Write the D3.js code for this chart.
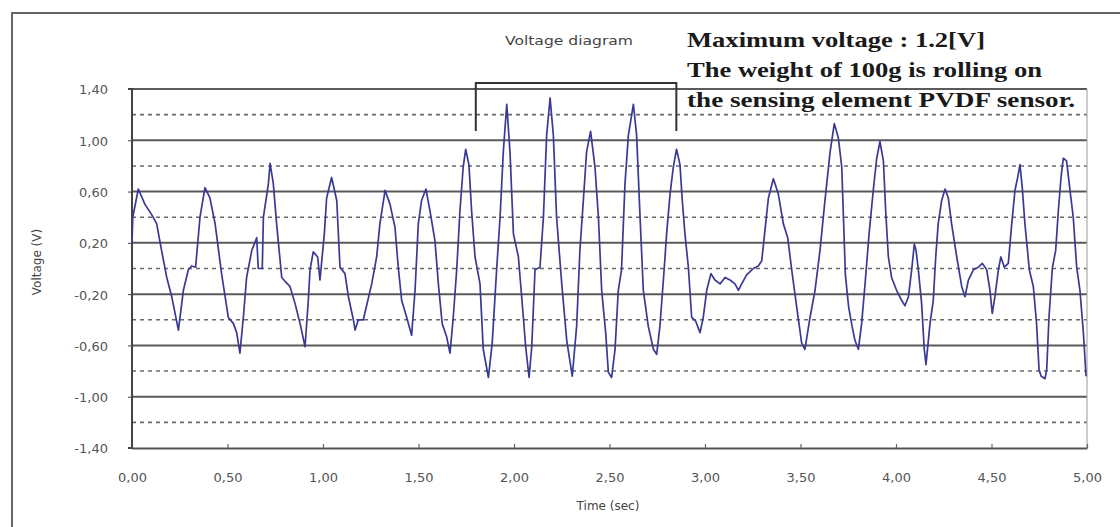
<!DOCTYPE html>
<html>
<head>
<meta charset="utf-8">
<script src="https://cdn.jsdelivr.net/npm/d3@7"></script>
<style>
  body { margin: 0; background: #fff; }
  svg { display: block; }
  .tick-label { font-family: "DejaVu Sans", sans-serif; font-size: 13px; fill: #555; }
  .axis-title { font-family: "DejaVu Sans", sans-serif; font-size: 12px; fill: #444; }
  .note { font-family: "Liberation Serif", "Times New Roman", serif; font-weight: bold; font-size: 21px; fill: #1a1a1a; }
</style>
</head>
<body>
<div id="chart-container"></div>
<script>
// PVDF sensor voltage trace
const timeSec = [
  0.000, 0.004, 0.033, 0.068, 0.103, 0.129, 0.155, 0.182, 0.208, 0.243, 0.269, 0.295, 0.312, 0.333, 0.356, 0.382,
  0.408, 0.435, 0.469, 0.504, 0.531, 0.548, 0.565, 0.583, 0.600, 0.627, 0.653, 0.661, 0.682, 0.688, 0.714, 0.723,
  0.740, 0.757, 0.784, 0.801, 0.827, 0.853, 0.880, 0.906, 0.923, 0.932, 0.949, 0.972, 0.984, 1.007, 1.019, 1.045,
  1.072, 1.089, 1.115, 1.133, 1.159, 1.168, 1.185, 1.211,
  1.255, 1.281, 1.298, 1.325, 1.351, 1.377, 1.394, 1.412, 1.438, 1.464, 1.482, 1.499, 1.516, 1.539, 1.560, 1.586,
  1.604, 1.624, 1.647, 1.665, 1.682, 1.700, 1.717, 1.734, 1.747, 1.764, 1.778, 1.796, 1.822, 1.839, 1.866, 1.886,
  1.909, 1.927, 1.944, 1.962, 1.979, 1.997, 2.023, 2.049, 2.061, 2.079, 2.093, 2.110, 2.136, 2.154, 2.171, 2.189,
  2.206, 2.223, 2.250, 2.276, 2.305, 2.328, 2.345, 2.363, 2.380, 2.401, 2.424, 2.442, 2.459, 2.480,
  2.494, 2.511, 2.529, 2.546, 2.563, 2.581, 2.599, 2.625, 2.642, 2.660, 2.677, 2.703, 2.730, 2.747, 2.764, 2.787,
  2.799, 2.817, 2.834, 2.851, 2.869, 2.881, 2.895, 2.913, 2.930, 2.951, 2.974, 2.991, 3.009, 3.031, 3.052, 3.079,
  3.105, 3.131, 3.157, 3.175, 3.192, 3.218, 3.253, 3.279, 3.297, 3.314, 3.332, 3.358, 3.384, 3.410, 3.433, 3.454,
  3.480, 3.506, 3.523, 3.550, 3.576, 3.602, 3.628, 3.655, 3.677, 3.698, 3.716, 3.735, 3.752,
  3.770, 3.785, 3.803, 3.820, 3.838, 3.859, 3.881, 3.899, 3.916, 3.934, 3.946, 3.960, 3.977, 4.003, 4.030, 4.047,
  4.065, 4.082, 4.096, 4.105, 4.117, 4.134, 4.148, 4.157, 4.178, 4.195, 4.208, 4.221, 4.239, 4.257, 4.274, 4.291,
  4.318, 4.344, 4.361, 4.379, 4.405, 4.431, 4.452, 4.475, 4.492, 4.504, 4.518, 4.536, 4.549, 4.567, 4.588, 4.606,
  4.623, 4.637, 4.649, 4.661, 4.675, 4.698, 4.719, 4.736, 4.749, 4.760, 4.771, 4.780, 4.789, 4.801, 4.819, 4.836,
  4.850, 4.864, 4.876, 4.893, 4.911, 4.928, 4.946, 4.963, 4.981, 4.995
];
const voltage = [
  0.19, 0.40, 0.62, 0.50, 0.42, 0.35, 0.14, -0.07, -0.22, -0.48, -0.17, -0.01, 0.02, 0.01, 0.40, 0.63,
  0.55, 0.35, -0.04, -0.38, -0.43, -0.50, -0.66, -0.38, -0.07, 0.14, 0.24, 0.00, 0.00, 0.40, 0.66, 0.82,
  0.66, 0.35, -0.07, -0.10, -0.14, -0.27, -0.43, -0.61, -0.25, -0.01, 0.13, 0.09, -0.09, 0.27, 0.55, 0.71,
  0.53, 0.01, -0.04, -0.22, -0.40, -0.48, -0.40, -0.40,
  -0.12, 0.09, 0.35, 0.61, 0.50, 0.32, 0.01, -0.25, -0.38, -0.52, -0.17, 0.35, 0.53, 0.62, 0.45, 0.22,
  -0.12, -0.43, -0.53, -0.66, -0.38, -0.01, 0.45, 0.79, 0.93, 0.81, 0.45, 0.09, -0.12, -0.63, -0.85, -0.58,
  -0.01, 0.40, 0.91, 1.28, 0.91, 0.27, 0.09, -0.38, -0.61, -0.85, -0.61, -0.01, 0.01, 0.40, 1.04, 1.33,
  1.04, 0.40, -0.12, -0.56, -0.84, -0.45, 0.14, 0.53, 0.91, 1.07, 0.79, 0.40, -0.17, -0.50,
  -0.81, -0.85, -0.63, -0.17, -0.01, 0.66, 1.04, 1.28, 1.04, 0.40, -0.17, -0.45, -0.63, -0.67, -0.45, 0.01,
  0.27, 0.58, 0.79, 0.93, 0.81, 0.53, 0.27, 0.01, -0.38, -0.41, -0.50, -0.38, -0.17, -0.04, -0.09, -0.12,
  -0.07, -0.09, -0.12, -0.17, -0.12, -0.05, 0.00, 0.02, 0.06, 0.30, 0.55, 0.70, 0.58, 0.35, 0.24, -0.01,
  -0.30, -0.58, -0.63, -0.38, -0.17, 0.14, 0.53, 0.91, 1.13, 1.02, 0.79, -0.05, -0.30,
  -0.45, -0.56, -0.63, -0.43, -0.12, 0.27, 0.61, 0.86, 0.99, 0.84, 0.45, 0.09, -0.07, -0.17, -0.25, -0.29,
  -0.22, -0.01, 0.19, 0.14, -0.01, -0.27, -0.63, -0.75, -0.43, -0.25, 0.09, 0.35, 0.53, 0.62, 0.55, 0.35,
  0.09, -0.14, -0.22, -0.09, -0.01, 0.01, 0.04, -0.01, -0.17, -0.35, -0.22, -0.01, 0.09, 0.01, 0.04, 0.35,
  0.61, 0.71, 0.81, 0.63, 0.35, -0.01, -0.14, -0.43, -0.79, -0.84, -0.85, -0.86, -0.79, -0.38, 0.01, 0.14,
  0.45, 0.71, 0.86, 0.84, 0.61, 0.40, 0.01, -0.17, -0.50, -0.84
];

const yTicks = [1.4, 1.0, 0.6, 0.2, -0.2, -0.6, -1.0, -1.4];
const yDashed = [1.2, 0.8, 0.4, 0.0, -0.4, -0.8, -1.2];
const xTicks = [0, 0.5, 1.0, 1.5, 2.0, 2.5, 3.0, 3.5, 4.0, 4.5, 5.0];

const chartTitle = "Voltage diagram";
const noteLines = [
  "Maximum voltage : 1.2[V]",
  "The weight of 100g is rolling on",
  "the sensing element PVDF sensor."
];

const W = 1120, H = 527;
const plot = { left: 132, right: 1087, top: 89, bottom: 448 };

const svg = d3.select("#chart-container")
  .append("svg")
  .attr("width", W)
  .attr("height", H);

const x = d3.scaleLinear().domain([0, 5]).range([plot.left, plot.right]);
const y = d3.scaleLinear().domain([-1.4, 1.4]).range([plot.bottom, plot.top]);

const fmt = d => (d < -1e-9 ? "-" : "") + Math.abs(d).toFixed(2).replace(".", ",");

// outer frame (top + left only are visible)
svg.append("path")
  .attr("d", `M12,${H} L12,13 L${W},13`)
  .attr("fill", "none")
  .attr("stroke", "#666")
  .attr("stroke-width", 2);

// dashed grid
svg.append("g").selectAll("line")
  .data(yDashed)
  .join("line")
  .attr("x1", plot.left).attr("x2", plot.right)
  .attr("y1", d => y(d)).attr("y2", d => y(d))
  .attr("stroke", "#6a6a6a")
  .attr("stroke-width", 1.6)
  .attr("stroke-dasharray", "4,4");

// solid grid
svg.append("g").selectAll("line")
  .data(yTicks.filter(d => d > -1.4))
  .join("line")
  .attr("x1", plot.left).attr("x2", plot.right)
  .attr("y1", d => y(d)).attr("y2", d => y(d))
  .attr("stroke", "#5a5a5a")
  .attr("stroke-width", 2);

// right border
svg.append("line")
  .attr("x1", plot.right).attr("x2", plot.right)
  .attr("y1", plot.top).attr("y2", plot.bottom)
  .attr("stroke", "#aaa")
  .attr("stroke-width", 1.2);

// axes
const xAxis = d3.axisBottom(x).tickValues(xTicks).tickSize(0).tickFormat(fmt);
const gx = svg.append("g")
  .attr("transform", `translate(0,${plot.bottom})`)
  .call(xAxis);
gx.select(".domain").attr("stroke", "#555").attr("stroke-width", 2);
gx.selectAll(".tick text")
  .attr("class", "tick-label")
  .attr("y", 34)
  .attr("dy", 0);
gx.selectAll(".tick").append("line")
  .attr("y1", 0).attr("y2", -4)
  .attr("stroke", "#666").attr("stroke-width", 1.2);

const yAxis = d3.axisLeft(y).tickValues(yTicks).tickSize(4).tickFormat(fmt);
const gy = svg.append("g")
  .attr("transform", `translate(${plot.left},0)`)
  .call(yAxis);
gy.select(".domain").attr("stroke", "#444").attr("stroke-width", 2).attr("d", `M-4,${plot.top}H0V${plot.bottom}H-4`);
gy.selectAll(".tick line").attr("stroke", "#444");
gy.selectAll(".tick text")
  .attr("class", "tick-label")
  .attr("x", -24)
  .attr("dy", "0.38em");

// axis titles
svg.append("text")
  .attr("class", "axis-title")
  .attr("x", 608).attr("y", 510)
  .attr("text-anchor", "middle")
  .text("Time (sec)");

svg.append("text")
  .attr("class", "axis-title")
  .attr("transform", "rotate(-90)")
  .attr("x", -262).attr("y", 41)
  .attr("text-anchor", "middle")
  .text("Voltage (V)");

// chart title
svg.append("text")
  .attr("class", "axis-title")
  .attr("x", 505).attr("y", 45)
  .attr("textLength", 128)
  .attr("lengthAdjust", "spacingAndGlyphs")
  .text(chartTitle);

// signal
const points = timeSec.map((t, i) => [t, voltage[i]]);
svg.append("path")
  .datum(points)
  .attr("fill", "none")
  .attr("stroke", "#3a3a96")
  .attr("stroke-width", 1.7)
  .attr("stroke-linejoin", "round")
  .attr("d", d3.line().x(d => x(d[0])).y(d => y(d[1])));

// bracket over the rolling interval
const bracket = [1.8, 2.85];
svg.append("path")
  .attr("d", `M${x(bracket[0])},131 V83 H${x(bracket[1])} V131`)
  .attr("fill", "none")
  .attr("stroke", "#333")
  .attr("stroke-width", 2);

// annotation notes
const noteWidths = [298, 355, 388];
noteLines.forEach((s, i) => {
  svg.append("text")
    .attr("class", "note")
    .attr("x", 687)
    .attr("y", 47 + i * 30)
    .attr("textLength", noteWidths[i])
    .attr("lengthAdjust", "spacingAndGlyphs")
    .text(s);
});
</script>
</body>
</html>
